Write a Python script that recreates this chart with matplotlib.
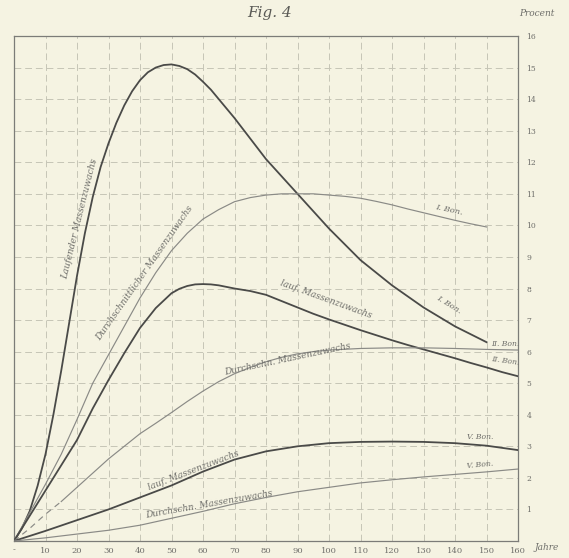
import matplotlib
matplotlib.use("Agg")
import matplotlib.pyplot as plt

# ---- data (age in years, increment in percent) ----
c1_x = [0, 2.5, 5, 7.5, 10, 12.5, 15, 17.5, 20, 22.5, 25, 27.5, 30, 32.5, 35, 37.5, 40, 42.5,
        45, 47.5, 50, 52.5, 55, 57.5, 60, 62.5, 65, 70, 75, 80, 85, 90, 95, 100,
        105, 110, 115, 120, 125, 130, 135, 140, 145, 150]
c1_y = [0, 0.4, 0.95, 1.75, 2.75, 4.0, 5.4, 6.9, 8.4, 9.75, 10.9, 11.85, 12.6, 13.25, 13.8,
        14.25, 14.6, 14.85, 15.0, 15.08, 15.1, 15.05, 14.95, 14.78, 14.55, 14.3, 14.0, 13.4,
        12.75, 12.1, 11.55, 11.0, 10.45, 9.9, 9.4, 8.9, 8.5, 8.1, 7.75, 7.4, 7.1, 6.8, 6.55, 6.3]

c2_x = [0, 5, 10, 15, 20, 25, 30, 35, 40, 45, 50, 55, 60, 65, 70, 75, 80, 85, 90, 95, 100,
        105, 110, 115, 120, 125, 130, 135, 140, 145, 150]
c2_y = [0, 0.9, 1.8, 2.75, 3.85, 5.0, 5.9, 6.8, 7.7, 8.5, 9.2, 9.75, 10.2, 10.5, 10.75, 10.88,
        10.96, 11.0, 11.0, 11.0, 10.96, 10.92, 10.86, 10.76, 10.65, 10.52, 10.4, 10.28, 10.16,
        10.05, 9.95]

c3_x = [0, 5, 10, 15, 20, 25, 30, 35, 40, 45, 50, 52.5, 55, 57.5, 60, 62.5, 65, 70, 75, 80,
        85, 90, 95, 100, 105, 110, 115, 120, 125, 130, 135, 140, 145, 150, 155, 160]
c3_y = [0, 0.8, 1.6, 2.4, 3.2, 4.2, 5.1, 5.95, 6.75, 7.38, 7.85, 7.99, 8.08, 8.13, 8.14, 8.13,
        8.1, 8.0, 7.92, 7.8, 7.6, 7.4, 7.2, 7.02, 6.85, 6.68, 6.52, 6.36, 6.21, 6.07, 5.93,
        5.79, 5.64, 5.5, 5.35, 5.22]

c4_x = [0, 5, 10, 15, 20, 25, 30, 35, 40, 45, 50, 55, 60, 65, 70, 75, 80, 85, 90, 95, 100,
        110, 120, 130, 140, 150, 160]
c4_y = [0, 0.4, 0.85, 1.25, 1.7, 2.15, 2.6, 3.0, 3.4, 3.73, 4.07, 4.42, 4.75, 5.05, 5.3, 5.5,
        5.68, 5.82, 5.93, 6.0, 6.05, 6.1, 6.12, 6.12, 6.1, 6.07, 6.05]

c5_x = [0, 10, 20, 30, 40, 50, 60, 70, 80, 90, 100, 110, 120, 130, 140, 150, 160]
c5_y = [0, 0.32, 0.66, 1.0, 1.38, 1.76, 2.2, 2.58, 2.84, 3.0, 3.1, 3.14, 3.15, 3.14, 3.1, 3.02, 2.88]

c6_x = [0, 10, 20, 30, 40, 50, 60, 70, 80, 90, 100, 110, 120, 130, 140, 150, 160]
c6_y = [0, 0.1, 0.22, 0.34, 0.5, 0.72, 0.94, 1.18, 1.38, 1.56, 1.7, 1.84, 1.94, 2.03, 2.11, 2.19, 2.28]

x_ticks = [0, 10, 20, 30, 40, 50, 60, 70, 80, 90, 100, 110, 120, 130, 140, 150, 160]
x_labels = ["-", "10", "20", "30", "40", "50", "60", "70", "80", "90", "100", "110", "120",
            "130", "140", "150", "160"]
y_ticks = list(range(1, 17))
y_labels = [str(v) for v in y_ticks]

BG = "#f5f3e2"
DARK = "#4a4a48"
THIN = "#8a8a86"
GRID = "#c6c5b6"
TXT = "#6e6e6a"
hand = dict(family="DejaVu Serif", style="italic", color=TXT)

fig = plt.figure(figsize=(5.69, 5.58), dpi=100, facecolor=BG)
ax = fig.add_axes([14 / 569, 1 - 541 / 558, (518 - 14) / 569, (541 - 36) / 558])
ax.set_facecolor(BG)
ax.set_xlim(0, 160)
ax.set_ylim(0, 16)

# grid
for gx in range(10, 160, 10):
    ax.axvline(gx, color=GRID, lw=0.7, ls=(0, (7, 4)), zorder=1)
for gy in range(1, 16):
    ax.axhline(gy, color=GRID, lw=0.7, ls=(0, (7, 4)), zorder=1)

for s in ax.spines.values():
    s.set_color("#7c7c78")
    s.set_linewidth(0.9)

# curves
kw_thick = dict(color=DARK, lw=1.3, zorder=3, solid_joinstyle="round")
kw_thin = dict(color=THIN, lw=0.85, zorder=3, solid_joinstyle="round")
ax.plot(c1_x, c1_y, **kw_thick)
ax.plot(c2_x, c2_y, **kw_thin)
ax.plot(c3_x, c3_y, **kw_thick)
ax.plot(c4_x[3:], c4_y[3:], **kw_thin)
ax.plot(c4_x[:4], c4_y[:4], color=THIN, lw=0.85, ls=(0, (5, 4)), zorder=3)
ax.plot(c5_x, c5_y, **kw_thick)
ax.plot(c6_x, c6_y, **kw_thin)

# ticks
ax.set_xticks(x_ticks)
ax.set_xticklabels(x_labels, fontsize=6, color=TXT, family="DejaVu Serif")
ax.yaxis.tick_right()
ax.set_yticks(y_ticks)
ax.set_yticklabels(y_labels, fontsize=5.5, color=TXT, family="DejaVu Serif")
ax.tick_params(axis="x", length=0, pad=4)
ax.tick_params(axis="y", length=0, pad=6)

# texts
fig.text(270 / 569, 1 - 13 / 558, "Fig. 4", fontsize=11, ha="center", va="center",
         family="DejaVu Serif", style="italic", color="#5a5a56")
fig.text(537 / 569, 1 - 14 / 558, "Procent", fontsize=6.5, ha="center", va="center", **hand)
fig.text(547 / 569, 1 - 547 / 558, "Jahre", fontsize=6.5, ha="center", va="center", **hand)

ax.text(21.0, 10.2, "Laufender Massenzuwachs", fontsize=6.5, rotation=76, ha="center",
        va="center", **hand)
ax.text(41.5, 8.5, "Durchschnittlicher Massenzuwachs", fontsize=6.5, rotation=55,
        ha="center", va="center", **hand)
ax.text(138, 10.5, "I. Bon.", fontsize=6, rotation=-12, ha="center", va="center", **hand)
ax.text(138, 7.5, "I. Bon.", fontsize=6, rotation=-32, ha="center", va="center", **hand)
ax.text(99, 7.65, "lauf. Massenzuwachs", fontsize=6.5, rotation=-20, ha="center",
        va="center", **hand)
ax.text(87, 5.75, "Durchschn. Massenzuwachs", fontsize=6.5, rotation=12, ha="center",
        va="center", **hand)
ax.text(156, 6.25, "II. Bon.", fontsize=5.5, rotation=0, ha="center", va="center", **hand)
ax.text(156, 5.7, "II. Bon.", fontsize=5.5, rotation=-8, ha="center", va="center", **hand)
ax.text(57, 2.25, "lauf. Massenzuwachs", fontsize=6.5, rotation=21, ha="center",
        va="center", **hand)
ax.text(62, 1.15, "Durchschn. Massenzuwachs", fontsize=6.5, rotation=10, ha="center",
        va="center", **hand)
ax.text(148, 3.3, "V. Bon.", fontsize=5.5, ha="center", va="center", **hand)
ax.text(148, 2.4, "V. Bon.", fontsize=5.5, rotation=5, ha="center", va="center", **hand)

fig.savefig("out.png", dpi=100, facecolor=BG)
